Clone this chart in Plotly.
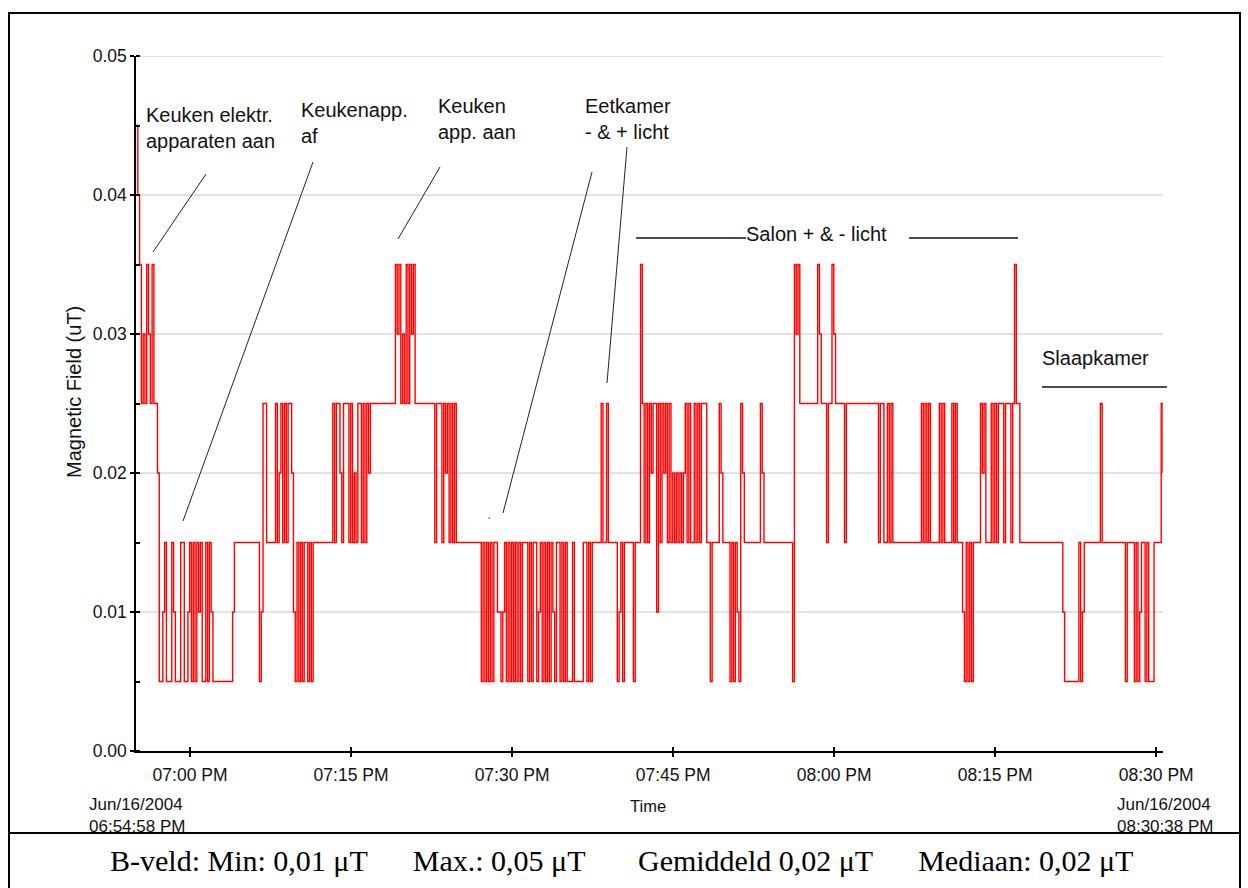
import pandas as pd
import plotly.graph_objects as go

# Logged session: Jun 16 2004, one reading every 10 s
START = "2004-06-16 18:54:58"
END = "2004-06-16 20:30:38"
SAMPLE_INTERVAL = "10s"
COUNT_UT = 0.005  # meter resolution: one count = 0.005 µT

# Readings in meter counts, one character per sample, in time order
readings_1855 = "98" "756576575" "54"
readings_1857 = ("11" "23" "111" "32" "111" "33" "11" "2" "3131323" "11" "313"
                 "2" "11111" "111111" "2")
readings_1904 = ("3333333" "3333333" "1" "2" "55" "33333" "5345353554" "2" "1"
                 "31313" "3131")
readings_1911 = "33333" "333333" "5355" "4355" "5353435535354" "5555555" "5555555"
readings_1919 = ("767565757675" "55555" "55555" "3" "5553" "5453535"
                 "3333333" "3333333")
readings_1927 = ("1313" "1" "3" "1" "332" "212" "31313131313" "331" "313" "312"
                 "3131313" "21" "331313" "1113" "11111" "331313")
readings_1937 = "3333" "5" "33" "5" "33333" "1231" "33333" "1" "333" "7" "53535455253"
readings_1943 = ("545" "353434343" "45" "3533" "5353" "555" "3313333" "5" "43333"
                 "131321" "54" "3333" "33333" "54" "3333" "3333" "3333" "3333")
readings_1956 = ("1" "767" "55555" "55555" "76" "555" "3" "55" "76" "55555" "3"
                 "555555" "555555" "555555" "3" "55335353" "33333" "33333" "33333")
readings_2008 = ("535353" "3333" "535" "3333" "5353" "33" "21" "3" "1313" "333"
                 "5453" "33" "53535" "55" "3" "5553" "5" "7" "55")
readings_2017 = ("333333" "333333" "333333" "333333" "21" "1111" "111" "312"
                 "3333" "33333" "5" "3333333" "333333" "1" "3333" "1312" "3313111"
                 "3333" "54")

counts = "".join([readings_1855, readings_1857, readings_1904, readings_1911,
                  readings_1919, readings_1927, readings_1937, readings_1943,
                  readings_1956, readings_2008, readings_2017])
field_ut = [int(c) * COUNT_UT for c in counts]
times = pd.date_range(START, periods=len(counts), freq=SAMPLE_INTERVAL)

time_ticks = pd.date_range("2004-06-16 19:00", "2004-06-16 20:30", freq="15min")
field_ticks = [i * 0.005 for i in range(11)]
field_labels = [f"{v:.2f}" if i % 2 == 0 else "" for i, v in enumerate(field_ticks)]
grid_levels = [0.01, 0.02, 0.03, 0.04, 0.05]

W, H = 1248, 888
L, R, T, B = 136, 1163, 56, 751


def fx(x):
    return (x - L) / (R - L)


def fy(y):
    return (B - y) / (B - T)


fig = go.Figure()
fig.add_trace(go.Scatter(
    x=times, y=field_ut, mode="lines",
    line=dict(color="#ff0000", width=1.4, shape="hv"),
    hoverinfo="skip", showlegend=False,
))

SANS = "Arial, Liberation Sans, sans-serif"
tick_font = dict(family=SANS, size=17.5, color="#111")
label_font = dict(family=SANS, size=17, color="#111")
note_font = dict(family=SANS, size=20, color="#111")

shapes = []
for g in grid_levels:
    shapes.append(dict(type="line", xref="paper", yref="y", x0=0, x1=1, y0=g, y1=g,
                       line=dict(color="#c4c4c4", width=1), layer="below"))

# leader lines for the notes
leaders = [
    ((206, 174), (153, 252)),
    ((313, 162), (183, 521)),
    ((440, 167), (398, 239)),
    ((592, 172), (503, 513)),
    ((627, 147), (607, 383)),
]
for (x0, y0), (x1, y1) in leaders:
    shapes.append(dict(type="line", xref="paper", yref="paper",
                       x0=fx(x0), y0=fy(y0), x1=fx(x1), y1=fy(y1),
                       line=dict(color="#222", width=1)))
shapes.append(dict(type="line", xref="paper", yref="paper",
                   x0=fx(488.5), y0=fy(518), x1=fx(490), y1=fy(518),
                   line=dict(color="#222", width=1.2)))
# span bars for the rooms
for x0, x1, y in [(636, 746, 238), (909, 1018, 238), (1042, 1167, 387)]:
    shapes.append(dict(type="line", xref="paper", yref="paper",
                       x0=fx(x0), y0=fy(y), x1=fx(x1), y1=fy(y),
                       line=dict(color="#111", width=1.6)))
# outer frame and footer divider
shapes.append(dict(type="rect", xref="paper", yref="paper",
                   x0=fx(9), y0=fy(900), x1=fx(1240), y1=fy(13),
                   line=dict(color="#000", width=2)))
shapes.append(dict(type="line", xref="paper", yref="paper",
                   x0=fx(9), y0=fy(833), x1=fx(1240), y1=fy(833),
                   line=dict(color="#000", width=2)))

notes = [
    ("Keuken elektr.<br>apparaten aan", 145, 128),
    ("Keukenapp.<br>af", 300, 123),
    ("Keuken<br>app. aan", 437, 119),
    ("Eetkamer<br>- &amp; + licht", 584, 119),
    ("Salon + &amp; - licht", 745, 234),
    ("Slaapkamer", 1041, 358),
]
annotations = []
for text, x, y in notes:
    annotations.append(dict(text=text, x=fx(x), y=fy(y), xref="paper", yref="paper",
                            xanchor="left", yanchor="middle", align="left",
                            showarrow=False, font=note_font, borderpad=0))

gap = "\u00a0" * 6
annotations += [
    dict(text="Magnetic Field (uT)", x=fx(74), y=fy(392), textangle=-90,
         xanchor="center", yanchor="middle", font=dict(family=SANS, size=20, color="#111")),
    dict(text="Time", x=fx(648), y=fy(806), xanchor="center", yanchor="middle",
         font=dict(family=SANS, size=16.5, color="#111")),
    dict(text="Jun/16/2004<br>06:54:58 PM", x=fx(88), y=fy(815), xanchor="left",
         yanchor="middle", align="left", font=label_font),
    dict(text="Jun/16/2004<br>08:30:38 PM", x=fx(1116), y=fy(815), xanchor="left",
         yanchor="middle", align="left", font=label_font),
    dict(text=("B-veld: Min: 0,01 μT" + gap + "Max.: 0,05 μT" + gap + "\u00a0"
               + "Gemiddeld 0,02 μT" + gap + "Mediaan: 0,02 μT"),
         x=fx(621), y=fy(861), xanchor="center", yanchor="middle",
         font=dict(family="Liberation Serif, Times New Roman, serif", size=30, color="#000")),
]
for a in annotations[len(notes):]:
    a.update(xref="paper", yref="paper", showarrow=False, borderpad=0)

fig.update_layout(
    width=W, height=H,
    margin=dict(l=L, r=W - R, t=T, b=H - B),
    paper_bgcolor="white", plot_bgcolor="white",
    shapes=shapes, annotations=annotations,
    xaxis=dict(
        type="date", range=[START, END], tickvals=time_ticks, tickformat="%I:%M %p",
        ticks="outside", ticklen=4, tickwidth=1.5, tickcolor="#000",
        showline=True, linecolor="#000", linewidth=1.5,
        showgrid=False, zeroline=False, tickfont=tick_font, ticklabelstandoff=3,
        minor=dict(tickvals=time_ticks, ticks="inside", ticklen=4, tickwidth=1.5,
                   tickcolor="#000", showgrid=False),
    ),
    yaxis=dict(
        range=[0, 0.05], tickvals=field_ticks, ticktext=field_labels,
        ticks="outside", ticklen=4, tickwidth=1.5, tickcolor="#000",
        showline=True, linecolor="#000", linewidth=1.5,
        showgrid=False, zeroline=False, tickfont=tick_font, ticklabelstandoff=0,
        minor=dict(tickvals=field_ticks, ticks="inside", ticklen=4, tickwidth=1.5,
                   tickcolor="#000", showgrid=False),
    ),
)

fig.write_html("out.html")
